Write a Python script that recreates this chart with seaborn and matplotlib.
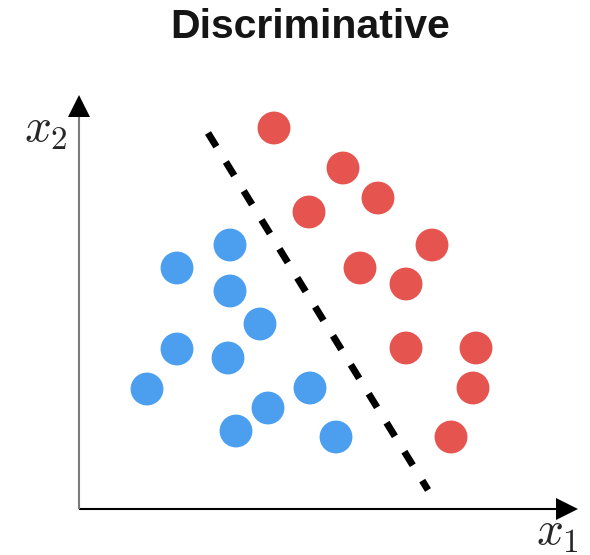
import matplotlib
matplotlib.use("Agg")
import matplotlib.pyplot as plt
import numpy as np
import pandas as pd
import seaborn as sns

# Class A (red) and class B (blue) samples in feature space (x1, x2)
red_x1 = [3.90, 5.28, 5.98, 4.60, 7.06, 5.62, 6.54, 6.54, 7.94, 7.88, 7.44]
red_x2 = [7.62, 6.82, 6.22, 5.94, 5.28, 4.82, 4.50, 3.22, 3.22, 2.42, 1.44]
blue_x1 = [3.02, 1.96, 3.02, 3.62, 1.96, 2.98, 1.36, 4.62, 3.78, 3.14, 5.14]
blue_x2 = [5.28, 4.82, 4.36, 3.70, 3.20, 3.02, 2.40, 2.42, 2.02, 1.56, 1.44]

# Decision boundary endpoints
boundary_x1 = [2.58, 6.98]
boundary_x2 = [7.52, 0.38]

title_text = "Discriminative"
x_label = r"$x_1$"
y_label = r"$x_2$"

df = pd.DataFrame({
    "x1": red_x1 + blue_x1,
    "x2": red_x2 + blue_x2,
    "cls": ["red"] * len(red_x1) + ["blue"] * len(blue_x1),
})

sns.set_style("white")
plt.rcParams["mathtext.fontset"] = "cm"
plt.rcParams["font.family"] = ["Liberation Sans", "DejaVu Sans"]

W, H = 590, 555
fig = plt.figure(figsize=(W / 100, H / 100), dpi=100)
# origin of the feature axes sits at pixel (79, 509); 50 px per unit
x_max, y_max = 10.0, 8.3
ax = fig.add_axes([79 / W, (H - 509) / H, 50 * x_max / W, 50 * y_max / H])
ax.set_xlim(0, x_max)
ax.set_ylim(0, y_max)
ax.axis("off")

sns.scatterplot(data=df, x="x1", y="x2", hue="cls",
                palette={"red": "#E6544F", "blue": "#4C9FEF"},
                s=560, linewidth=0, legend=False, ax=ax, clip_on=False, zorder=3)

ax.plot(boundary_x1, boundary_x2, color="black", lw=5,
        linestyle=(0, (2.3, 2.6)), dash_capstyle="butt", zorder=4, clip_on=False)

# axis lines with arrow heads
ax.plot([0, 9.8], [0, 0], color="black", lw=1.5, clip_on=False, solid_capstyle="butt")
ax.plot([0, 0], [0, 8.1], color="#7a7a7a", lw=1.5, clip_on=False, solid_capstyle="butt")
ax.plot([9.76], [0], marker=">", ms=16, color="black", clip_on=False, mew=0)
ax.plot([0], [8.06], marker="^", ms=16, color="black", clip_on=False, mew=0)

fig.text(310 / W, 1 - 38 / H, title_text, ha="center", va="baseline",
         fontsize=29.5, fontweight="bold", color="#151515")

fig.text(24 / W, 1 - 142 / H, y_label, ha="left", va="baseline", fontsize=34)
fig.text(536 / W, 1 - 545 / H, x_label, ha="left", va="baseline", fontsize=34)

fig.savefig("out.png", dpi=100)
